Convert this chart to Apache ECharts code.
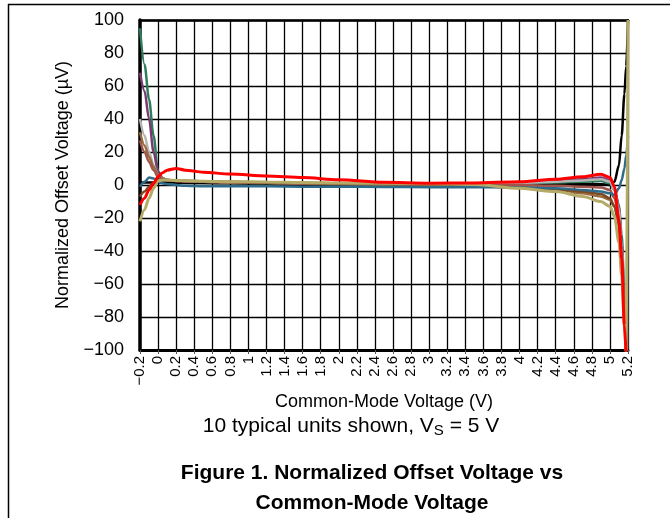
<!DOCTYPE html>
<html>
<head>
<meta charset="utf-8">
<script src="https://cdn.jsdelivr.net/npm/echarts@6/dist/echarts.min.js"></script>
<style>
html,body{margin:0;padding:0;background:#fff;}
#chart{width:670px;height:518px;}
</style>
</head>
<body>
<div id="chart"></div>
<script>
// Common-mode voltage sample points (V)
const vcm = [-0.2, -0.15, -0.1, -0.05, 0, 0.05, 0.1, 0.2, 0.3, 0.5, 0.8, 1.2, 1.6, 2.0, 2.5, 3.0, 3.5, 4.0, 4.4, 4.7, 4.9, 5.0, 5.05, 5.1, 5.13, 5.16, 5.18, 5.2];

// Normalized offset voltage (µV) for 10 typical units
const unitBlack    = [1.5, 1.5, 1.5, 1.5, 1.5, 1.5, 1.5, 1.4, 1.3, 1.2, 1.0, 0.8, 0.6, 0.5, 0.3, 0.2, 0.2, 0.4, 0.6, 0.7, 0.5, 0, 2, 12, 30, 55, 72, 100];
const unitGreen    = [95, 73, 52, 30, 8, 4, 3, 2.5, 2.5, 2, 1.5, 1.2, 1, 0.8, 0.5, 0.3, 0.5, 1, 1.5, 2, 2.5, 1, -3, -12, -30, -65, -105, null];
const unitPurple   = [68, 57, 40, 20, 8, 4, 3, 2.5, 2.2, 2, 1.6, 1.3, 1, 0.8, 0.6, 0.5, 0.8, 1.5, 2.5, 3.5, 4.5, 3, -2, -14, -35, -72, -105, null];
const unitGray     = [40, 30, 20, 12, 6, 4, 3, 2.8, 2.5, 2.2, 1.8, 1.5, 1.2, 1, 0.8, 0.6, 0.8, 1.2, 2, 2.8, 3.5, 2, -3, -15, -38, -75, -105, null];
const unitBrown    = [32, 24, 17, 11, 6, 4, 3, 2.5, 2.2, 2, 1.5, 1.2, 0.8, 0.5, 0.2, -0.2, -0.8, -1.5, -2.5, -5, -7, -9, -13, -24, -42, -78, -105, null];
const unitRose     = [27, 20, 14, 9, 5, 3.5, 3, 2.5, 2.2, 2, 1.7, 1.4, 1.1, 0.9, 0.6, 0.4, 0.3, 0, -0.5, -1, -1.5, -3, -8, -20, -42, -80, -105, null];
const unitDkBrown  = [-7, -4, -1, 1.5, 3, 3.2, 3, 2.8, 2.6, 2.3, 2, 1.6, 1.3, 1, 0.7, 0.4, 0, -1.5, -2.5, -4, -5.5, -8, -13, -25, -45, -82, -105, null];
const unitTeal     = [-1, 2, 4.5, 4, 2, 1, 0.5, 0, -0.5, -0.8, -0.8, -0.8, -1, -1, -1.2, -1.3, -1.3, -1.5, -2, -3, -4, -5, -6, -2, 3, 10, 18, 30];
const unitOlive    = [-22, -15, -8, -2, 2.5, 3, 3, 2.8, 2.6, 2.3, 2, 1.8, 1.5, 1.2, 1, 0.8, 0.3, -2, -4, -7, -10, -13, -19, -35, -55, -85, -100, 100];
const unitRed      = [-12, -8, -3, 1, 5, 7.5, 9, 10, 9, 7.8, 6.6, 5.5, 4.5, 3.2, 1.6, 1.1, 1.2, 2, 3.5, 5, 6.5, 4.5, -1, -22, -45, -85, -105, null];

// Tick labels
const xTickMin = -0.2, xTickMax = 5.2, xTickStep = 0.2;
const yTickMin = -100, yTickMax = 100, yTickStep = 20;

const FONT = 'Liberation Sans, Arial, sans-serif';
const fmt = v => {
  const r = Math.round(v * 10) / 10;
  if (Math.abs(r) < 1e-9) return '0';
  return (r < 0 ? '\u2212' : '') + String(Math.abs(r));
};

const units = [
  {name:'U9',  data:unitBlack,   color:'#000000', w:2.5},
  {name:'U1',  data:unitGreen,   color:'#2f7d5d', w:2.5},
  {name:'U2',  data:unitPurple,  color:'#7a3a72', w:2.5},
  {name:'U3',  data:unitGray,    color:'#b5b5b5', w:2.5},
  {name:'U4',  data:unitBrown,   color:'#9a6a3a', w:2.5},
  {name:'U5',  data:unitRose,    color:'#a0564c', w:2.5},
  {name:'U6',  data:unitDkBrown, color:'#7b4a24', w:2.5},
  {name:'U7',  data:unitTeal,    color:'#2e6a8a', w:2.5},
  {name:'U8',  data:unitOlive,   color:'#b4ab68', w:3},
  {name:'U10', data:unitRed,     color:'#ff0000', w:3}
];

const chart = echarts.init(document.getElementById('chart'), null, {renderer:'canvas'});
const option = {
  animation: false,
  backgroundColor: '#ffffff',
  textStyle: {fontFamily: FONT, color:'#000'},
  grid: {left:140, right:42, top:20, bottom:168},
  title: [
    {
      text: '{a|10 typical units shown, V}{s|S}{a| = 5 V}',
      left: 346, top: 408, textAlign: 'center',
      textStyle: {
        fontFamily: FONT, fontWeight: 'normal',
        rich: {
          a: {fontSize:21, fontFamily:FONT, fontWeight:'normal', color:'#000', lineHeight:27},
          s: {fontSize:15, fontFamily:FONT, fontWeight:'normal', color:'#000', lineHeight:27, padding:[9,0,0,0]}
        }
      }
    },
    {
      text: 'Figure 1. Normalized Offset Voltage vs\nCommon-Mode Voltage',
      left: 367, top: 453, textAlign: 'center',
      textStyle: {fontFamily:FONT, fontSize:21, fontWeight:'bold', color:'#000', lineHeight:30}
    }
  ],
  xAxis: [
    {
      type:'value', min:xTickMin, max:xTickMax, interval:xTickStep,
      name:'Common-Mode Voltage (V)', nameLocation:'middle', nameGap:42,
      nameTextStyle:{fontFamily:FONT, fontSize:18, color:'#000'},
      axisLine:{show:true, onZero:false, lineStyle:{color:'#000', width:3}},
      axisTick:{show:true, length:4, lineStyle:{color:'#555', width:1}},
      axisLabel:{rotate:90, fontSize:15, fontFamily:FONT, color:'#000', margin:6, formatter:fmt, showMinLabel:true, showMaxLabel:true, hideOverlap:false},
      splitLine:{show:true, lineStyle:{color:'#000', width:1.3}}
    },
    {
      type:'value', position:'top', min:xTickMin, max:xTickMax, interval:xTickStep,
      axisLine:{show:true, onZero:false, lineStyle:{color:'#000', width:2.5}},
      axisTick:{show:false}, axisLabel:{show:false}, splitLine:{show:false}
    }
  ],
  yAxis: [
    {
      type:'value', min:yTickMin, max:yTickMax, interval:yTickStep,
      name:'Normalized Offset Voltage (\u00B5V)', nameLocation:'middle', nameGap:68, nameRotate:90,
      nameTextStyle:{fontFamily:FONT, fontSize:18, color:'#000'},
      axisLine:{show:true, onZero:false, lineStyle:{color:'#000', width:3.5}},
      axisTick:{show:false},
      axisLabel:{fontSize:18, fontFamily:FONT, color:'#000', margin:16, formatter:fmt},
      splitLine:{show:true, lineStyle:{color:'#000', width:1.3}}
    },
    {
      type:'value', position:'right', min:yTickMin, max:yTickMax, interval:yTickStep,
      axisLine:{show:true, onZero:false, lineStyle:{color:'#333', width:2}},
      axisTick:{show:false}, axisLabel:{show:false}, splitLine:{show:false}
    }
  ],
  graphic: [
    {type:'line', shape:{x1:8, y1:4.5, x2:670, y2:4.5}, style:{stroke:'#000', lineWidth:1.5}, z:100},
    {type:'line', shape:{x1:8.5, y1:4, x2:8.5, y2:518}, style:{stroke:'#000', lineWidth:1.5}, z:100}
  ],
  series: units.map(u => ({
    name: u.name,
    type: 'line',
    xAxisIndex: 0, yAxisIndex: 0,
    data: vcm.map((x, i) => [x, u.data[i]]),
    showSymbol: false,
    smooth: 0.3,
    smoothMonotone: 'x',
    clip: true,
    connectNulls: false,
    lineStyle: {color: u.color, width: u.w},
    itemStyle: {color: u.color}
  }))
};
chart.setOption(option);
</script>
</body>
</html>
